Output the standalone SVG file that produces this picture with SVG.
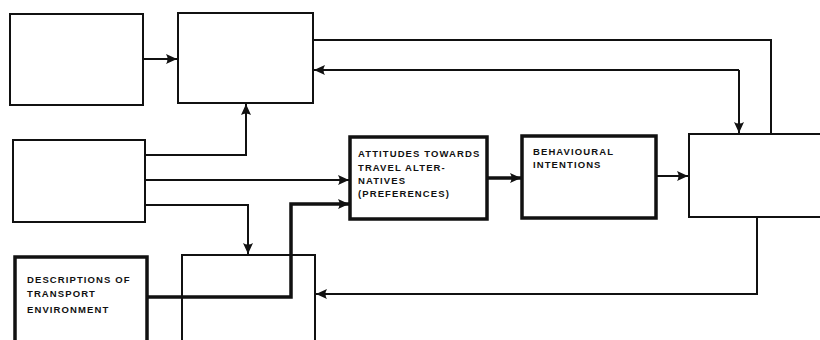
<svg xmlns="http://www.w3.org/2000/svg" width="820" height="340" viewBox="0 0 820 340">
<style>
.box{fill:#fff;stroke:#111;stroke-width:2}
.thick{fill:#fff;stroke:#111;stroke-width:3.5}
.ln{fill:none;stroke:#111;stroke-width:2}
.tl{fill:none;stroke:#111;stroke-width:3.5}
.lbl{font-family:"Liberation Sans",Arial,sans-serif;font-weight:bold;font-size:9.5px;fill:#111;letter-spacing:1.1px}
</style>
<defs>
<marker id="ah" markerUnits="userSpaceOnUse" markerWidth="14" markerHeight="14" refX="11" refY="6" orient="auto">
<path d="M0,1 L11,6 L0,11 Q3,6 0,1 Z" fill="#111"/>
</marker>
</defs>
<rect width="820" height="340" fill="#fff"/>
<g id="nodeA"><rect class="box" x="10" y="14" width="133" height="91"/></g>
<g id="nodeB"><rect class="box" x="178" y="13" width="135" height="90"/></g>
<g id="nodeC"><rect class="box" x="13" y="140" width="132" height="82"/></g>
<g id="nodeD"><rect class="thick" x="350" y="137" width="137" height="82"/>
<text class="lbl" x="358" y="157">ATTITUDES TOWARDS</text>
<text class="lbl" x="358" y="171">TRAVEL ALTER-</text>
<text class="lbl" x="358" y="184">NATIVES</text>
<text class="lbl" x="358" y="197">(PREFERENCES)</text>
</g>
<g id="nodeE"><rect class="thick" x="522" y="136" width="134" height="82"/>
<text class="lbl" x="533" y="155">BEHAVIOURAL</text>
<text class="lbl" x="533" y="168">INTENTIONS</text>
</g>
<g id="nodeF"><rect class="box" x="689" y="134" width="140" height="83"/></g>
<g id="nodeG"><rect class="thick" x="15" y="257" width="132" height="95"/>
<text class="lbl" x="27" y="283">DESCRIPTIONS OF</text>
<text class="lbl" x="27" y="297">TRANSPORT</text>
<text class="lbl" x="27" y="313">ENVIRONMENT</text>
</g>
<g id="nodeH"><rect class="box" x="182" y="255" width="133" height="95"/></g>
<g id="connectors">
<path class="ln" d="M143,59 H177" marker-end="url(#ah)"/>
<path class="ln" d="M313,40 H771 V134"/>
<path class="ln" d="M739,70 H314" marker-end="url(#ah)"/>
<path class="ln" d="M739,70 V133" marker-end="url(#ah)"/>
<path class="ln" d="M145,155 H246 V104" marker-end="url(#ah)"/>
<path class="ln" d="M145,180 H349" marker-end="url(#ah)"/>
<path class="ln" d="M145,205 H248 V254" marker-end="url(#ah)"/>
<path class="tl" d="M147,297 H291 V204 H349" marker-end="url(#ah)"/>
<path class="ln" d="M757,217 V294 H316" marker-end="url(#ah)"/>
<path class="tl" d="M487,178 H521" marker-end="url(#ah)"/>
<path class="ln" d="M656,176 H688" marker-end="url(#ah)"/>
</g>
</svg>
